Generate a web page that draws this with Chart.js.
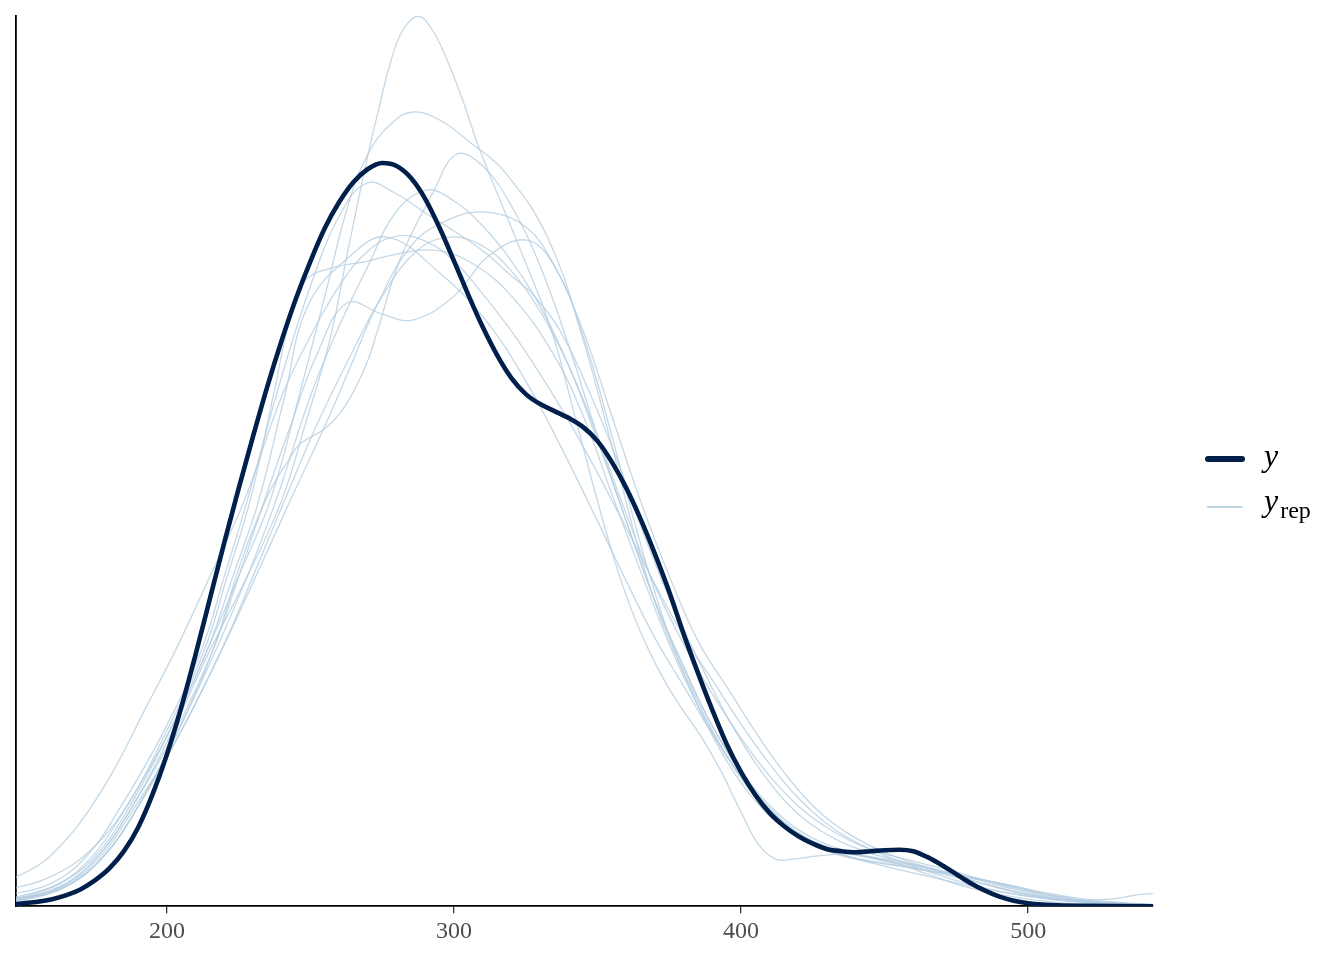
<!DOCTYPE html>
<html>
<head>
<meta charset="utf-8">
<script src="https://cdn.jsdelivr.net/npm/chart.js@4.4.1/dist/chart.umd.min.js"></script>
<style>
html, body { margin: 0; padding: 0; background: #fff; }
#wrap { position: relative; width: 1344px; height: 960px; }
#chart { position: absolute; left: 0; top: 0; }
.swatch { position: absolute; }
.lab { position: absolute; font-family: "Liberation Serif", "DejaVu Serif", serif; font-style: italic;
       font-size: 32px; line-height: 32px; color: #000; white-space: nowrap; }
.lab .sub { font-style: normal; font-size: 24px; position: relative; top: 7px; margin-left: 2px; }
</style>
</head>
<body>
<div id="wrap">
  <canvas id="chart" width="1344" height="960"></canvas>
  <div class="swatch" style="left:1205px;top:456px;width:40px;height:6px;border-radius:3px;background:#011f4b;"></div>
  <div class="lab" style="left:1264px;top:439px;">y</div>
  <div class="swatch" style="left:1207px;top:506px;width:36px;height:1.5px;background:rgba(179,205,224,0.8);"></div>
  <div class="lab" style="left:1264px;top:484px;">y<span class="sub">rep</span></div>
</div>
<script>
// x range shown on the panel and the tick labels
const xMin = 147.4
const xMax = 543.5
const tickVals = [200, 300, 400, 500]

const obsX = [140,145,150,155,160,165,170,175,180,185,190,195,200,205,210,215,220,225,230,235,240,245,250,255,260,265,270,275,280,285,290,295,300,305,310,315,320,325,330,335,340,345,350,355,360,365,370,375,380,385,390,395,400,405,410,415,420,425,430,435,440,445,450,455,460,465,470,475,480,485,490,495,500,505,510,520,530,550]
const obsDens = [1,1.5,3,4.5,7,11,17,26,38,55,79,112,152,199,252,308,364,418,470,520,566,608,645,678,704,724,737,743,740,728,707,678,645,611,579,551,528,512,502,495,488,479,465,444,418,387,352,314,272,233,196,162,134,111,93,80,70,62.5,57,55,54,55,56,56.5,55,49,41,32,23,15.5,9.5,5.5,3,1.6,0.9,0.3,0.1,0]

// replicated densities, [x, density x 1e5] pairs
const rep01 = [[140,4],[148,7],[163,20],[176,50],[188,100],[201,170],[215,256],[228,330],[240,406],[248,480],[256.7,566],[263,655],[269.6,746],[274,800],[278,845],[282,875],[287.4,890],[292,878],[297,850],[303,806],[309,756],[324,650],[334,575],[343,480],[350,405],[356,345],[362,295],[368,255],[374,222],[380,195],[386,170],[393,135],[400,94],[406,62],[412,47],[418,47],[426,50],[434,52],[442,51],[452,45],[465,32],[480,18],[500,7],[520,2],[550,1]]
const rep02 = [[140,5],[146,7],[161,20],[174,50],[186,100],[200,170],[214,256],[225,330],[236,406],[246,510],[255,610],[263,700],[270,752],[278,782],[285.6,794],[295,786],[305,765],[318,733],[333,666],[345,566],[355,460],[365,350],[373,280],[382,222],[395,150],[408,100],[420,72],[435,52],[450,40],[465,30],[480,20],[495,12],[510,6],[525,3],[550,1]]
const rep03 = [[140,3],[150,7],[165,20],[178,50],[190,100],[203,170],[216,256],[226,346],[235,410],[243,449],[246.3,462],[255.7,479],[262.7,503],[269.6,543],[273.1,573],[281.1,646],[292.6,713],[301,752],[310,740],[320,700],[330,640],[340,560],[350,470],[360,385],[370,305],[380,240],[390,180],[400,135],[412,95],[425,68],[440,52],[455,42],[470,32],[485,22],[500,12],[515,5],[530,2],[550,1]]
const rep04 = [[140,9],[144,11],[159,22],[172,50],[184,100],[198,170],[212,256],[220,330],[228,406],[240,530],[250,620],[260,690],[269.6,723],[280,712],[290,693],[300,675],[311,653],[320,630],[327,613],[337,575],[347,515],[357,445],[367,365],[377,295],[387,235],[397,180],[407,135],[417,100],[428,75],[440,58],[455,45],[470,34],[485,22],[500,12],[515,6],[530,3],[550,1]]
const rep05 = [[140,3],[150,7],[165,20],[178,50],[190,100],[203,170],[217,256],[228,330],[238,406],[250,510],[260,580],[270,640],[280,695],[290.5,716],[300,705],[310,680],[320,645],[330,600],[340,540],[350,465],[360,385],[370,305],[380,238],[390,180],[400,133],[410,98],[422,70],[435,55],[450,46],[465,38],[480,28],[495,17],[510,8],[525,3],[550,1]]
const rep06 = [[140,4],[149,8],[164,20],[177,50],[189,100],[204,170],[219,256],[231,330],[243,406],[255,480],[264,540],[273,600],[285,660],[297,685],[310.7,694],[325,679],[335,640],[345,575],[355,490],[365,405],[375,330],[385,265],[396,215],[406,170],[416,130],[427,95],[440,68],[455,48],[470,35],[485,26],[498,18],[510,10],[525,4],[550,1]]
const rep07 = [[140,6],[147,9],[162,22],[175,50],[187,100],[200,170],[214,256],[223,330],[232,406],[241,510],[249,600],[263,648],[276.6,669],[295,633],[311,586],[325,525],[338,455],[350,385],[360,325],[370,268],[380,220],[390,172],[400,130],[410,96],[420,72],[430,58],[442,50],[455,45],[470,35],[485,22],[500,11],[515,5],[530,2],[550,1]]
const rep08 = [[140,4],[148,7],[163,20],[176,50],[188,100],[202,170],[216,256],[225,330],[234,406],[243,480],[252,550],[262.7,603],[275,592],[285.6,586],[300,610],[312,650],[325.3,666],[335,640],[345,570],[355,470],[365,362],[375,270],[385,200],[395,145],[405,105],[415,78],[427,58],[440,47],[455,40],[470,33],[485,26],[497,18],[510,10],[525,4],[550,1]]
const rep09 = [[140,3],[150,6],[165,20],[178,50],[190,100],[204,170],[219,256],[230,330],[241,406],[252,480],[263,545],[275,610],[287,655],[298.5,669],[310,660],[320,635],[330,595],[340,540],[350,470],[360,392],[370,320],[380,262],[390,212],[400,168],[410,130],[420,100],[432,75],[445,57],[460,45],[475,34],[490,22],[505,12],[520,5],[540,2],[550,1]]
const rep10 = [[140,14],[147,18],[160,30],[173,55],[186,100],[199,170],[213,256],[221,330],[229,406],[237,510],[243,590],[248,625],[256,637],[270,645],[280,652],[292.6,656],[305,645],[320,610],[335,550],[345,490],[355,412],[365,335],[375,262],[385,200],[395,150],[405,110],[415,82],[425,62],[437,50],[450,43],[465,36],[480,28],[492,22],[505,14],[520,7],[535,3],[550,1]]
const rep11 = [[140,22],[147.4,29],[160,52],[176.7,113],[194,206],[203,256],[215,330],[227,406],[240,510],[250,570],[260,620],[270,655],[280,670],[290,665],[300,645],[310,612],[320,575],[330,532],[340,485],[350,433],[360,378],[370,322],[380,270],[390,226],[400,182],[410,142],[420,108],[432,78],[445,57],[458,42],[470,30],[485,18],[500,10],[515,6],[528,7],[540,12],[550,14]]

const repList = [rep01, rep02, rep03, rep04, rep05, rep06, rep07, rep08, rep09, rep10, rep11]

const darkCol = '#011f4b'
const lightCol = 'rgba(179,205,224,0.78)'

// observed line goes first so it is painted on top
let datasets = [{
    label: 'y',
    data: obsX.map((x, i) => ({x: x, y: obsDens[i]})),
    borderColor: darkCol,
    borderWidth: 4.6,
    pointRadius: 0,
    cubicInterpolationMode: 'monotone',
    borderCapStyle: 'round',
    clip: 0
}]

for (let r = 0; r < repList.length; r++) {
    datasets.push({
        label: 'yrep',
        data: repList[r].map(p => ({x: p[0], y: p[1]})),
        borderColor: lightCol,
        borderWidth: 1.3,
        pointRadius: 0,
        tension: 0.4,
        clip: 0
    })
}

const ctx = document.getElementById('chart')

new Chart(ctx, {
    type: 'line',
    data: { datasets: datasets },
    options: {
        responsive: false,
        devicePixelRatio: 1,
        animation: false,
        events: [],
        layout: { padding: { left: 16, right: 191, top: 16, bottom: 10 } },
        plugins: { legend: { display: false }, tooltip: { enabled: false } },
        scales: {
            x: {
                type: 'linear',
                min: xMin,
                max: xMax,
                afterBuildTicks: (scale) => { scale.ticks = tickVals.map(v => ({value: v})) },
                grid: { display: true, drawOnChartArea: false, drawTicks: true, tickLength: 7, color: '#333333', lineWidth: 1.3 },
                border: { display: true, color: '#000000', width: 1.8 },
                ticks: {
                    color: '#4d4d4d',
                    padding: 4,
                    maxRotation: 0,
                    autoSkip: false,
                    font: { family: '"Liberation Serif", "DejaVu Serif", serif', size: 24 }
                }
            },
            y: {
                min: 0,
                max: 890,
                grid: { display: false, drawTicks: false },
                border: { display: true, color: '#000000', width: 1.8 },
                ticks: { display: false }
            }
        }
    }
})
</script>
</body>
</html>
